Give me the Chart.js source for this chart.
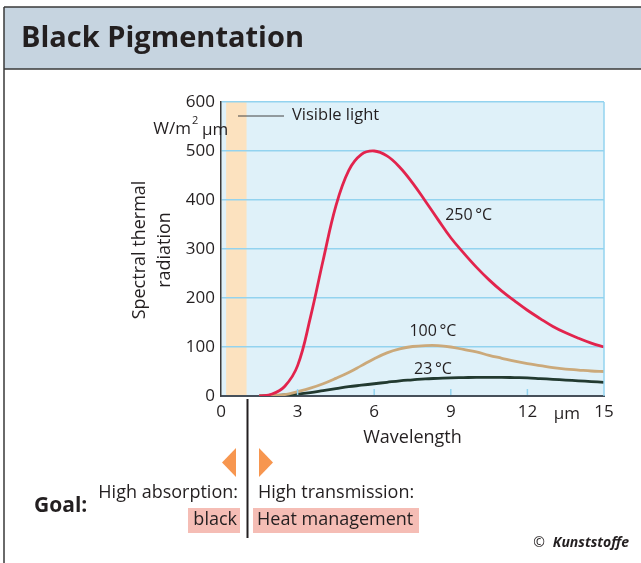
<!DOCTYPE html>
<html>
<head>
<meta charset="utf-8">
<script src="https://cdn.jsdelivr.net/npm/chart.js@4.4.1/dist/chart.umd.min.js"></script>
<style>
  html, body { margin: 0; padding: 0; background: #fff; }
  #wrap { width: 641px; height: 563px; position: relative; }
</style>
</head>
<body>
<div id="wrap"><canvas id="chart" width="641" height="563"></canvas></div>
<script>
// Werte (Schritt 0.5 µm)
const wellenlaenge = [1.5, 2, 2.5, 3, 3.5, 4, 4.5, 5, 5.5, 6, 6.5, 7, 7.5, 8, 8.5, 9, 9.5, 10, 10.5, 11, 11.5, 12, 12.5, 13, 13.5, 14, 14.5, 15];
const strahlung250 = [0, 4, 20, 62, 160, 277, 388, 460, 493, 500, 490, 467, 435, 398, 360, 323, 292, 263, 237, 214, 194, 175, 158, 142, 129, 118, 108, 100];
const strahlung100 = [0, 1, 3, 9, 16, 25, 36, 48, 62, 76, 88, 96, 101, 103, 103, 100, 95, 90, 83, 77, 71, 66, 62, 58, 55, 53, 51, 50];
const strahlung23 = [0, 1, 2, 4, 7, 11, 15, 19, 22, 25, 28, 31, 33, 35, 36, 37, 37.5, 38, 38, 38, 37.5, 37, 35.5, 34, 32.5, 31, 29.5, 28];
const xTicks = [0, 3, 6, 9, 12, 15];
const yTicks = [0, 100, 200, 300, 400, 500, 600];
const sichtbaresLicht = [0.2, 1.0];

const FONT = "'Open Sans', 'Noto Sans', sans-serif";
const TEXT = "#231f20";

const punkte = (ys) => wellenlaenge.map((x, i) => ({ x, y: ys[i] }));

const zeichnePlugin = {
    id: "zeichnePlugin",
    beforeDraw(chart) {
        const ctx = chart.ctx;
        const a = chart.chartArea;
        const xs = chart.scales.x;
        ctx.save();
        ctx.fillStyle = "#fff";
        ctx.fillRect(0, 0, chart.width, chart.height);
        // Titelleiste
        ctx.fillStyle = "#c6d4e0";
        ctx.fillRect(4, 7, chart.width - 4, 62);
        ctx.strokeStyle = "#3a3a3a";
        ctx.lineWidth = 1.5;
        ctx.beginPath();
        ctx.moveTo(4, 7); ctx.lineTo(chart.width, 7);
        ctx.moveTo(4, 69); ctx.lineTo(chart.width, 69);
        ctx.moveTo(4, 7); ctx.lineTo(4, chart.height);
        ctx.stroke();
        ctx.fillStyle = TEXT;
        ctx.font = "bold 29px " + FONT;
        ctx.textBaseline = "middle";
        ctx.fillText("Black Pigmentation", 21, 39);
        // Diagrammhintergrund
        ctx.fillStyle = "#dff1f9";
        ctx.fillRect(a.left, a.top, a.right - a.left, a.bottom - a.top);
        ctx.fillStyle = "#fce2bf";
        const b0 = xs.getPixelForValue(sichtbaresLicht[0]);
        const b1 = xs.getPixelForValue(sichtbaresLicht[1]);
        ctx.fillRect(b0, a.top, b1 - b0, a.bottom - a.top);
        ctx.restore();
    },
    afterDraw(chart) {
        const ctx = chart.ctx;
        const a = chart.chartArea;
        const xs = chart.scales.x;
        const ys = chart.scales.y;
        ctx.save();
        // rechter Rand
        ctx.strokeStyle = "#93d3ef";
        ctx.lineWidth = 1.5;
        ctx.beginPath();
        ctx.moveTo(a.right, a.top); ctx.lineTo(a.right, a.bottom);
        ctx.stroke();
        // kleine Striche innen an der x-Achse
        ctx.beginPath();
        [3, 6, 9, 12].forEach(v => {
            const px = xs.getPixelForValue(v);
            ctx.moveTo(px, a.bottom - 1); ctx.lineTo(px, a.bottom - 7);
        });
        ctx.stroke();

        ctx.fillStyle = TEXT;
        ctx.textBaseline = "middle";
        ctx.font = "16px " + FONT;
        // Kurvenbeschriftung
        ctx.textAlign = "center";
        ctx.fillText("250\u2009°C", xs.getPixelForValue(9.7), ys.getPixelForValue(368));
        ctx.fillText("100\u2009°C", xs.getPixelForValue(8.3), ys.getPixelForValue(132));
        ctx.fillText("23\u2009°C", xs.getPixelForValue(8.3), ys.getPixelForValue(55));
        // Sichtbares Licht
        ctx.textAlign = "left";
        ctx.font = "16.5px " + FONT;
        ctx.fillText("Visible light", 292, 115);
        ctx.strokeStyle = "#444";
        ctx.lineWidth = 1;
        ctx.beginPath();
        ctx.moveTo(238, 116); ctx.lineTo(284, 116);
        ctx.stroke();
        // Einheit y
        ctx.font = "17px " + FONT;
        ctx.textAlign = "right";
        ctx.fillText("W/m", 191, 129);
        ctx.font = "11px " + FONT;
        ctx.textAlign = "left";
        ctx.fillText("2", 192, 121);
        ctx.font = "17px " + FONT;
        ctx.fillText("μm", 202, 130);
        // Einheit x
        ctx.textAlign = "center";
        ctx.fillText("μm", xs.getPixelForValue(13.55), a.bottom + 18);
        // Achsentitel
        ctx.font = "18px " + FONT;
        ctx.fillText("Wavelength", xs.getPixelForValue(7.5), 438);
        ctx.save();
        ctx.translate(152, 250);
        ctx.rotate(-Math.PI / 2);
        ctx.fillText("Spectral thermal", 0, -12);
        ctx.fillText("radiation", 0, 13);
        ctx.restore();

        // Ziel-Bereich unten
        ctx.strokeStyle = "#231f20";
        ctx.lineWidth = 2;
        ctx.beginPath();
        ctx.moveTo(247.5, 399); ctx.lineTo(247.5, 538);
        ctx.stroke();
        ctx.fillStyle = "#f7964f";
        ctx.beginPath();
        ctx.moveTo(236, 448); ctx.lineTo(236, 477); ctx.lineTo(222, 462.5); ctx.closePath();
        ctx.fill();
        ctx.beginPath();
        ctx.moveTo(259, 448); ctx.lineTo(259, 477); ctx.lineTo(273, 462.5); ctx.closePath();
        ctx.fill();
        ctx.fillStyle = "#f5bdb5";
        ctx.fillRect(188, 508, 52, 25);
        ctx.fillRect(253, 508, 166, 25);
        ctx.fillStyle = TEXT;
        ctx.font = "18px " + FONT;
        ctx.textAlign = "right";
        ctx.fillText("High absorption:", 238, 493);
        ctx.fillText("black", 237, 520);
        ctx.textAlign = "left";
        ctx.fillText("High transmission:", 258, 493);
        ctx.fillText("Heat management", 257, 520);
        ctx.font = "bold 21px " + FONT;
        ctx.fillText("Goal:", 34, 506);
        ctx.font = "14px " + FONT;
        ctx.textAlign = "right";
        ctx.fillText("©", 545, 543);
        ctx.font = "italic bold 14px " + FONT;
        ctx.fillText("Kunststoffe", 629, 543);
        ctx.restore();
    }
};

new Chart(document.getElementById("chart"), {
    type: "line",
    data: {
        datasets: [
            { label: "250 °C", data: punkte(strahlung250), borderColor: "#e2244d", borderWidth: 2.8 },
            { label: "100 °C", data: punkte(strahlung100), borderColor: "#cba97a", borderWidth: 2.8 },
            { label: "23 °C", data: punkte(strahlung23), borderColor: "#223a30", borderWidth: 2.8 }
        ]
    },
    options: {
        responsive: false,
        animation: false,
        elements: {
            point: { radius: 0 },
            line: { tension: 0.4, fill: false }
        },
        layout: { padding: { left: 0, top: 102, right: 37, bottom: 0 } },
        plugins: { legend: { display: false }, tooltip: { enabled: false } },
        scales: {
            x: {
                type: "linear",
                min: 0,
                max: 15,
                afterBuildTicks: s => { s.ticks = xTicks.map(v => ({ value: v })); },
                afterFit: s => { s.height = 167; },
                grid: { display: false, drawTicks: false },
                border: { display: true, color: "#46505a", width: 2 },
                ticks: { color: TEXT, font: { family: FONT, size: 17 }, padding: 6, maxRotation: 0, autoSkip: false }
            },
            y: {
                min: 0,
                max: 600,
                afterBuildTicks: s => { s.ticks = yTicks.map(v => ({ value: v })); },
                afterFit: s => { s.width = 221; },
                grid: { color: "#93d3ef", lineWidth: 1.5, drawTicks: false },
                border: { display: true, color: "#3a3a3a", width: 1.5 },
                ticks: { color: TEXT, font: { family: FONT, size: 17 }, padding: 6 }
            }
        }
    },
    plugins: [zeichnePlugin]
});
</script>
</body>
</html>
